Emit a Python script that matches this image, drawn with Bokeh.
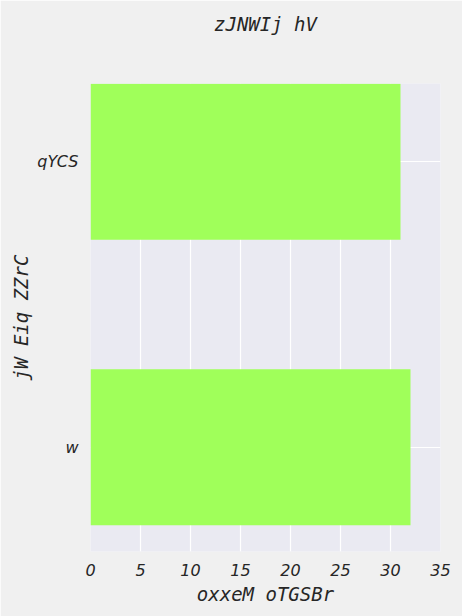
from bokeh.plotting import figure
from bokeh.models import Range1d, FixedTicker, Title
from bokeh.embed import file_html
from bokeh.resources import INLINE

categories = ["w", "qYCS"]
values = [32, 31]
positions = [0, 1]
x_ticks = [0, 5, 10, 15, 20, 25, 30, 35]

p = figure(width=462, height=616, output_backend="svg", toolbar_location=None,
           x_range=Range1d(0, 35), y_range=Range1d(-0.365, 1.274),
           min_border_left=90, min_border_right=22, min_border_top=0, min_border_bottom=65)

p.hbar(y=positions, right=values, left=0, height=0.547, color="#a0ff5a", line_color=None)

p.background_fill_color = "#eaeaf2"
p.border_fill_color = "#f0f0f0"
p.outline_line_color = None

p.title.text = "zJNWIj hV"
p.title.align = "center"
p.title.text_font = "DejaVu Sans Mono"
p.title.text_font_style = "italic"
p.title.text_font_size = "19px"
p.title.text_color = "#262626"
p.title.standoff = 20

# blank spacer between title and plot area
p.add_layout(Title(text=" ", text_font_size="1px", standoff=36), "above")

p.xaxis.ticker = FixedTicker(ticks=x_ticks)
p.yaxis.ticker = FixedTicker(ticks=positions)
p.yaxis.major_label_overrides = {pos: cat for pos, cat in zip(positions, categories)}

for ax in (p.xaxis[0], p.yaxis[0]):
    ax.axis_line_color = None
    ax.major_tick_line_color = None
    ax.minor_tick_line_color = None
    ax.major_tick_out = 0
    ax.major_tick_in = 0
    ax.major_label_text_color = "#262626"
    ax.axis_label_text_color = "#262626"
    ax.axis_label_text_font = "DejaVu Sans Mono"
    ax.axis_label_text_font_style = "italic"
    ax.axis_label_text_font_size = "19px"

p.xaxis.axis_label = "oxxeM oTGSBr"
p.yaxis.axis_label = "jW Eiq ZZrC"
p.xaxis.major_label_text_font = "DejaVu Sans"
p.xaxis.major_label_text_font_style = "italic"
p.xaxis.major_label_text_font_size = "16px"
p.yaxis.major_label_text_font = "DejaVu Sans"
p.yaxis.major_label_text_font_style = "italic"
p.yaxis.major_label_text_font_size = "16px"
p.xaxis.major_label_standoff = 12
p.yaxis.major_label_standoff = 12
p.xaxis.axis_label_standoff = 4
p.yaxis.axis_label_standoff = 2

p.xgrid.grid_line_color = "white"
p.ygrid.grid_line_color = "white"
p.xgrid.grid_line_width = 1.2
p.ygrid.grid_line_width = 1.2

open("out.html", "w").write(file_html(p, INLINE))
